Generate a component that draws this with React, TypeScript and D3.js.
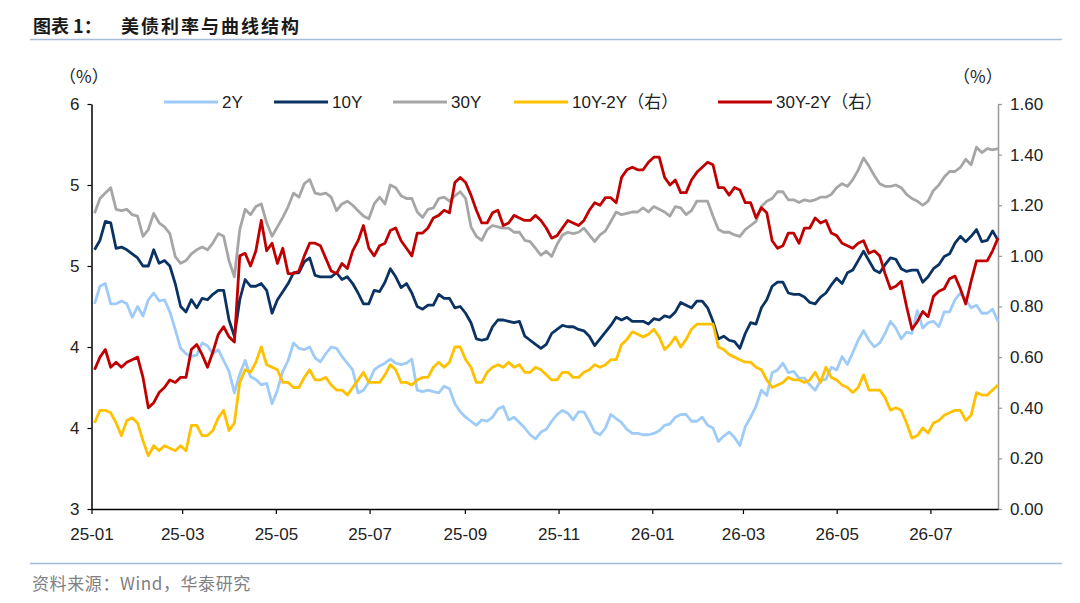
import React, { useEffect, useRef } from 'react';
import * as d3 from 'd3';

// twice-weekly observations starting from the first Friday of 2025
const firstObs = new Date(2025, 0, 3);
const stepDays = 3.5;

const xTickLabels = ['25-01', '25-03', '25-05', '25-07', '25-09', '25-11', '26-01', '26-03', '26-05', '26-07'];
const leftTicks = [3, 3.6, 4.2, 4.8, 5.4, 6];
const rightTicks = [0, 0.2, 0.4, 0.6, 0.8, 1.0, 1.2, 1.4, 1.6];

// yields, % (left axis)
const y2 = [
    4.52, 4.65, 4.67, 4.52, 4.52, 4.54, 4.52, 4.42, 4.50, 4.43, 4.55, 4.60, 4.54, 4.55, 4.46, 4.33, 4.19, 4.15, 4.13, 4.14,
    4.23, 4.21, 4.15, 4.18, 4.10, 4.02, 3.86, 4.00, 4.10, 3.98, 3.96, 3.92, 3.93, 3.78, 3.88, 4.02, 4.10, 4.23, 4.19, 4.18,
    4.20, 4.12, 4.09, 4.15, 4.20, 4.19, 4.13, 4.08, 4.03, 3.86, 3.88, 3.94, 4.03, 4.06, 4.08, 4.11, 4.08,
    4.07, 4.08, 4.11, 3.88, 3.87, 3.88, 3.87, 3.86, 3.91, 3.89, 3.78, 3.72, 3.68, 3.65, 3.62, 3.66, 3.65, 3.68, 3.74, 3.76,
    3.66, 3.68, 3.64, 3.60, 3.55, 3.52, 3.57, 3.59, 3.65, 3.70, 3.73, 3.71, 3.66, 3.72, 3.72, 3.65, 3.57, 3.55, 3.60, 3.70,
    3.67, 3.64, 3.59, 3.56, 3.56, 3.55, 3.55, 3.56, 3.58, 3.62, 3.63, 3.68, 3.70, 3.70, 3.65, 3.65,
    3.68, 3.62, 3.60, 3.50, 3.54, 3.57, 3.53, 3.47, 3.61, 3.68, 3.76, 3.88, 3.84, 4.01, 4.03, 4.08, 4.01, 4.02, 3.97, 3.97,
    3.92, 3.88, 3.95, 3.96, 4.05, 4.03, 4.13, 4.07, 4.16, 4.25, 4.32, 4.25, 4.20, 4.23, 4.30, 4.39, 4.34, 4.26, 4.31, 4.30,
    4.47, 4.34, 4.38, 4.39, 4.35, 4.46, 4.46, 4.55, 4.60, 4.55, 4.49, 4.51, 4.45, 4.45, 4.48, 4.39
];
const y10 = [
    4.92, 4.99, 5.13, 5.12, 4.93, 4.94, 4.92, 4.89, 4.86, 4.80, 4.80, 4.92, 4.82, 4.84, 4.80, 4.67, 4.50, 4.46, 4.55, 4.49,
    4.56, 4.55, 4.59, 4.62, 4.62, 4.40, 4.28, 4.55, 4.70, 4.65, 4.65, 4.67, 4.62, 4.45, 4.55, 4.61, 4.67, 4.75, 4.75, 4.83,
    4.86, 4.73, 4.72, 4.72, 4.72, 4.75, 4.70, 4.72, 4.67, 4.60, 4.52, 4.52, 4.62, 4.61, 4.68, 4.78, 4.72,
    4.64, 4.67, 4.60, 4.50, 4.48, 4.51, 4.51, 4.59, 4.56, 4.56, 4.49, 4.50, 4.45, 4.38, 4.26, 4.25, 4.26, 4.35, 4.40, 4.40,
    4.39, 4.38, 4.39, 4.28, 4.25, 4.22, 4.19, 4.22, 4.30, 4.33, 4.36, 4.35, 4.35, 4.33, 4.32, 4.28, 4.21, 4.26, 4.31, 4.36,
    4.42, 4.40, 4.42, 4.39, 4.39, 4.39, 4.37, 4.41, 4.40, 4.43, 4.42, 4.46, 4.53, 4.51, 4.49, 4.54,
    4.54, 4.49, 4.39, 4.26, 4.28, 4.25, 4.24, 4.19, 4.30, 4.38, 4.37, 4.49, 4.55, 4.65, 4.68, 4.68, 4.60, 4.59, 4.59, 4.57,
    4.53, 4.52, 4.57, 4.60, 4.66, 4.71, 4.67, 4.75, 4.77, 4.84, 4.91, 4.84, 4.77, 4.75, 4.81, 4.86, 4.85, 4.78, 4.76, 4.77,
    4.77, 4.68, 4.72, 4.78, 4.81, 4.87, 4.89, 4.97, 5.02, 4.98, 5.02, 5.07, 4.98, 4.99, 5.06, 4.99
];
const y30 = [
    5.19, 5.30, 5.34, 5.38, 5.22, 5.21, 5.22, 5.18, 5.17, 5.02, 5.07, 5.19, 5.12, 5.09, 5.04, 4.87, 4.82, 4.84, 4.89, 4.92,
    4.94, 4.92, 4.97, 5.04, 5.02, 4.84, 4.72, 5.07, 5.22, 5.18, 5.24, 5.26, 5.12, 5.02, 5.09, 5.16, 5.24, 5.34, 5.31, 5.41,
    5.44, 5.34, 5.33, 5.34, 5.31, 5.21, 5.26, 5.28, 5.25, 5.21, 5.17, 5.15, 5.26, 5.31, 5.26, 5.40, 5.38,
    5.32, 5.30, 5.30, 5.20, 5.16, 5.22, 5.23, 5.30, 5.31, 5.28, 5.32, 5.35, 5.30, 5.09, 5.02, 4.99, 5.07, 5.10, 5.09, 5.08,
    5.08, 5.05, 5.05, 4.99, 4.98, 4.93, 4.88, 4.91, 4.87, 4.96, 5.03, 5.05, 5.04, 5.05, 5.08, 5.03, 4.98, 5.03, 5.06, 5.13,
    5.20, 5.18, 5.19, 5.20, 5.20, 5.23, 5.20, 5.24, 5.22, 5.20, 5.17, 5.24, 5.23, 5.18, 5.21, 5.28,
    5.28, 5.28, 5.17, 5.07, 5.05, 5.05, 5.03, 5.02, 5.07, 5.10, 5.13, 5.24, 5.28, 5.30, 5.35, 5.35, 5.29, 5.29, 5.27, 5.29,
    5.28, 5.29, 5.31, 5.31, 5.33, 5.38, 5.41, 5.39, 5.44, 5.51, 5.60, 5.54, 5.47, 5.41, 5.39, 5.39, 5.40, 5.38, 5.33, 5.30,
    5.28, 5.25, 5.28, 5.36, 5.40, 5.46, 5.50, 5.50, 5.53, 5.59, 5.55, 5.68, 5.64, 5.67, 5.66, 5.67
];
// spreads, % (right axis)
const s10_2 = [
    0.34, 0.39, 0.39, 0.38, 0.34, 0.29, 0.35, 0.36, 0.34, 0.27, 0.21, 0.25, 0.23, 0.25, 0.24, 0.23, 0.25, 0.23, 0.33, 0.33,
    0.29, 0.29, 0.31, 0.36, 0.39, 0.31, 0.34, 0.50, 0.55, 0.54, 0.58, 0.64, 0.57, 0.56, 0.55, 0.50, 0.50, 0.48, 0.48, 0.52,
    0.55, 0.51, 0.51, 0.52, 0.49, 0.47, 0.47, 0.45, 0.48, 0.51, 0.54, 0.50, 0.50, 0.50, 0.53, 0.57, 0.55,
    0.50, 0.50, 0.49, 0.51, 0.52, 0.52, 0.56, 0.58, 0.56, 0.58, 0.64, 0.64, 0.59, 0.56, 0.50, 0.50, 0.54, 0.56, 0.57, 0.56,
    0.58, 0.56, 0.57, 0.54, 0.54, 0.56, 0.55, 0.53, 0.51, 0.51, 0.54, 0.54, 0.52, 0.52, 0.54, 0.55, 0.57, 0.56, 0.57, 0.59,
    0.59, 0.65, 0.67, 0.70, 0.69, 0.68, 0.69, 0.71, 0.68, 0.63, 0.65, 0.68, 0.64, 0.67, 0.71, 0.73,
    0.73, 0.73, 0.73, 0.64, 0.63, 0.61, 0.60, 0.59, 0.58, 0.58, 0.56, 0.55, 0.51, 0.48, 0.49, 0.50, 0.52, 0.51, 0.51, 0.50,
    0.51, 0.54, 0.50, 0.56, 0.52, 0.51, 0.49, 0.48, 0.46, 0.48, 0.53, 0.47, 0.47, 0.47, 0.44, 0.39, 0.40, 0.39, 0.34, 0.28,
    0.29, 0.32, 0.30, 0.34, 0.35, 0.37, 0.38, 0.39, 0.39, 0.35, 0.37, 0.46, 0.45, 0.45, 0.47, 0.49
];
const s30_2 = [
    0.55, 0.60, 0.63, 0.56, 0.58, 0.56, 0.58, 0.59, 0.60, 0.52, 0.40, 0.42, 0.46, 0.48, 0.51, 0.50, 0.52, 0.52, 0.63, 0.65,
    0.61, 0.56, 0.62, 0.69, 0.72, 0.68, 0.66, 1.00, 1.01, 0.96, 1.02, 1.14, 1.02, 1.05, 0.97, 1.03, 0.93, 0.93, 0.94, 1.00,
    1.05, 1.05, 1.04, 0.99, 0.94, 0.93, 0.97, 0.95, 1.02, 1.06, 1.12, 1.03, 1.00, 1.04, 1.05, 1.10, 1.11,
    1.06, 1.03, 1.00, 1.09, 1.09, 1.11, 1.15, 1.16, 1.18, 1.17, 1.29, 1.31, 1.29, 1.24, 1.18, 1.13, 1.13, 1.17, 1.18, 1.12,
    1.13, 1.16, 1.15, 1.14, 1.14, 1.16, 1.14, 1.11, 1.07, 1.08, 1.11, 1.14, 1.13, 1.12, 1.14, 1.18, 1.21, 1.20, 1.23, 1.23,
    1.21, 1.31, 1.34, 1.35, 1.34, 1.34, 1.37, 1.39, 1.39, 1.31, 1.28, 1.30, 1.25, 1.25, 1.30, 1.33,
    1.35, 1.37, 1.36, 1.27, 1.27, 1.24, 1.27, 1.26, 1.21, 1.21, 1.15, 1.19, 1.17, 1.06, 1.03, 1.04, 1.09, 1.09, 1.05, 1.11,
    1.11, 1.15, 1.13, 1.14, 1.09, 1.08, 1.05, 1.04, 1.03, 1.05, 1.06, 1.01, 1.02, 1.00, 0.93, 0.87, 0.88, 0.90, 0.80, 0.71,
    0.74, 0.78, 0.76, 0.84, 0.86, 0.87, 0.91, 0.92, 0.87, 0.81, 0.90, 0.98, 0.98, 0.98, 1.02, 1.07
];

const series = [
    { name: '2Y', values: y2, axis: 'left', color: '#9ECBF7' },
    { name: '10Y', values: y10, axis: 'left', color: '#0A3363' },
    { name: '30Y', values: y30, axis: 'left', color: '#A6A6A6' },
    { name: '10Y-2Y（右）', values: s10_2, axis: 'right', color: '#FFC000' },
    { name: '30Y-2Y（右）', values: s30_2, axis: 'right', color: '#C00000' }
];

const LATIN = "'Liberation Sans', Arial, 'Noto Sans CJK SC', sans-serif";
const CJK = "'Noto Sans CJK SC', 'Liberation Sans', sans-serif";

const App: React.FC = () => {
    const svgRef = useRef<SVGSVGElement>(null);

    useEffect(() => {
        if (!svgRef.current) return;
        const svg = d3.select(svgRef.current);
        svg.selectAll('*').remove();

        const left = 91.5, right = 998, top = 104, bottom = 509;
        const dateAt = (i: number) => new Date(firstObs.getTime() + i * stepDays * 864e5);

        const x = d3.scaleTime()
            .domain([new Date(2025, 0, 1), new Date(2026, 7, 14)])
            .range([left, right]);
        const yL = d3.scaleLinear().domain([3, 6]).range([bottom, top]);
        const yR = d3.scaleLinear().domain([0, 1.6]).range([bottom, top]);

        // header
        svg.append('text')
            .attr('x', 33).attr('y', 33)
            .attr('font-family', CJK).attr('font-size', 18).attr('font-weight', 'bold')
            .attr('fill', '#1a1a1a')
            .text('图表 1：');
        svg.append('text')
            .attr('x', 121).attr('y', 33)
            .attr('font-family', CJK).attr('font-size', 18).attr('font-weight', 'bold')
            .attr('letter-spacing', 2)
            .attr('fill', '#1a1a1a')
            .text('美债利率与曲线结构');
        svg.append('line')
            .attr('x1', 30).attr('x2', 1062).attr('y1', 39.5).attr('y2', 39.5)
            .attr('stroke', '#A9BDD9').attr('stroke-width', 1.5);

        // unit labels
        svg.append('text').attr('x', 59).attr('y', 83)
            .attr('font-family', CJK).attr('font-size', 17).attr('fill', '#222')
            .text('（%）');
        svg.append('text').attr('x', 953).attr('y', 83)
            .attr('font-family', CJK).attr('font-size', 17).attr('fill', '#222')
            .text('（%）');

        // axes
        const fmtL = d3.format('.0f');
        const axL = svg.append('g')
            .attr('transform', `translate(${left},0)`)
            .call(d3.axisLeft(yL).tickValues(leftTicks).tickFormat(d => fmtL(Number(d))).tickSize(4).tickSizeOuter(0).tickPadding(8));
        axL.select('.domain').attr('stroke', '#000').attr('stroke-width', 1.5);
        axL.selectAll('.tick line').attr('stroke', '#000').attr('stroke-width', 1.2);

        const axR = svg.append('g')
            .attr('transform', `translate(${right},0)`)
            .call(d3.axisRight(yR).tickValues(rightTicks).tickFormat(d3.format('.2f')).tickSize(4).tickSizeOuter(0).tickPadding(8));
        axR.select('.domain').attr('stroke', '#999').attr('stroke-width', 1.5);
        axR.selectAll('.tick line').attr('stroke', '#999').attr('stroke-width', 1.2);

        const parseTick = d3.timeParse('%y-%m');
        const xTicks = xTickLabels.map(s => parseTick(s) as Date);
        const axB = svg.append('g')
            .attr('transform', `translate(0,${bottom})`)
            .call(d3.axisBottom(x).tickValues(xTicks).tickFormat(d => d3.timeFormat('%y-%m')(d as Date)).tickSize(5).tickSizeOuter(0).tickPadding(14));
        axB.select('.domain').attr('stroke', '#000').attr('stroke-width', 1.5);
        axB.selectAll('.tick line').attr('stroke', '#000').attr('stroke-width', 1.2);

        [axL, axR, axB].forEach(a => {
            a.selectAll('text')
                .attr('font-family', LATIN)
                .attr('font-size', 17)
                .attr('fill', '#222');
        });

        // lines
        series.forEach(s => {
            const yScale = s.axis === 'left' ? yL : yR;
            const line = d3.line<number>()
                .x((_d, i) => x(dateAt(i)))
                .y(d => yScale(d));
            svg.append('path')
                .datum(s.values)
                .attr('fill', 'none')
                .attr('stroke', s.color)
                .attr('stroke-width', 2.8)
                .attr('stroke-linejoin', 'round')
                .attr('d', line);
        });

        // legend
        const legendX = [164, 274, 393, 514, 718];
        const lg = svg.append('g').attr('transform', 'translate(0,102)');
        series.forEach((s, i) => {
            lg.append('line')
                .attr('x1', legendX[i]).attr('x2', legendX[i] + 54)
                .attr('y1', 0).attr('y2', 0)
                .attr('stroke', s.color).attr('stroke-width', 3);
            lg.append('text')
                .attr('x', legendX[i] + 58).attr('y', 6)
                .attr('font-family', LATIN).attr('font-size', 17).attr('fill', '#222')
                .text(s.name);
        });

        // footer
        svg.append('line')
            .attr('x1', 30).attr('x2', 1062).attr('y1', 563.5).attr('y2', 563.5)
            .attr('stroke', '#A9BDD9').attr('stroke-width', 1.5);
        svg.append('text')
            .attr('x', 32).attr('y', 590)
            .attr('font-family', CJK).attr('font-size', 17).attr('letter-spacing', 0.6).attr('fill', '#808080')
            .text('资料来源：Wind，华泰研究');
    }, []);

    return (
        <svg
            ref={svgRef}
            width={1080}
            height={603}
            style={{ position: 'absolute', left: 0, top: 0, background: '#fff' }}
        ></svg>
    );
};

export default App;
